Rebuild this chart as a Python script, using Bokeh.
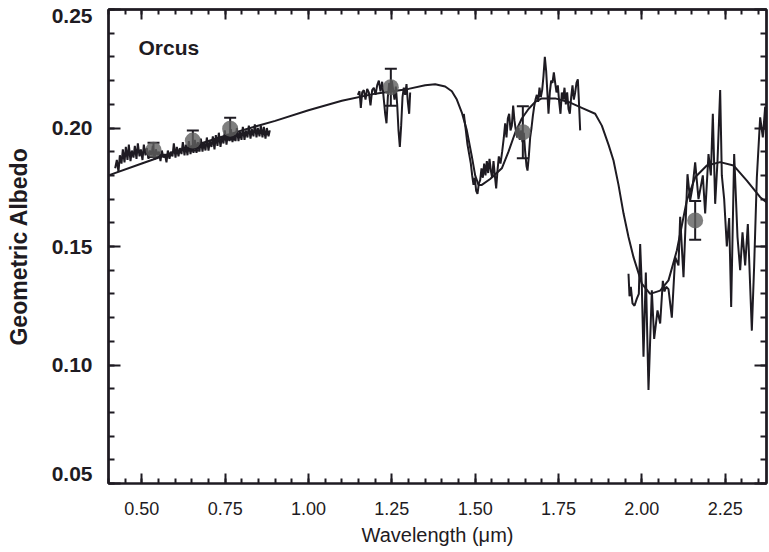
from bokeh.plotting import figure
from bokeh.models import (ColumnDataSource, Whisker, TeeHead, LinearAxis,
                          FixedTicker, Range1d, Label, NumeralTickFormatter)
from bokeh.embed import file_html
from bokeh.resources import INLINE

# ---------------- data ----------------
vis_x = [0.420, 0.425, 0.430, 0.434, 0.439, 0.443, 0.448, 0.452, 0.457, 0.461,
         0.466, 0.470, 0.475, 0.479, 0.484, 0.488, 0.493, 0.497, 0.502, 0.506,
         0.511, 0.515, 0.520, 0.524, 0.529, 0.533, 0.538, 0.542, 0.547, 0.551,
         0.556, 0.560, 0.565, 0.569, 0.574, 0.578, 0.583, 0.587, 0.592, 0.596,
         0.601, 0.605, 0.610, 0.614, 0.619, 0.623, 0.628, 0.632, 0.637, 0.641,
         0.646, 0.650, 0.655, 0.659, 0.664, 0.668, 0.673, 0.677, 0.682, 0.686,
         0.691, 0.695, 0.700, 0.704, 0.709, 0.713, 0.718, 0.722, 0.727, 0.731,
         0.736, 0.740, 0.745, 0.749, 0.754, 0.758, 0.763, 0.767, 0.772, 0.776,
         0.781, 0.785, 0.790, 0.794, 0.799, 0.803, 0.808, 0.812, 0.817, 0.821,
         0.826, 0.830, 0.835, 0.839, 0.844, 0.848, 0.853, 0.857, 0.862, 0.866,
         0.871, 0.875, 0.880, 0.884]
vis_y = [0.1830, 0.1865, 0.1815, 0.1885, 0.1850, 0.1910, 0.1855, 0.1920, 0.1865, 0.1930,
         0.1860, 0.1905, 0.1875, 0.1925, 0.1870, 0.1935, 0.1880, 0.1910, 0.1865, 0.1930,
         0.1885, 0.1915, 0.1870, 0.1905, 0.1885, 0.1925, 0.1865, 0.1910, 0.1885, 0.1900,
         0.1860, 0.1905, 0.1875, 0.1890, 0.1855, 0.1905, 0.1870, 0.1900, 0.1880, 0.1935,
         0.1875, 0.1920, 0.1880, 0.1915, 0.1890, 0.1940, 0.1885, 0.1930, 0.1885, 0.1945,
         0.1890, 0.1925, 0.1895, 0.1950, 0.1895, 0.1940, 0.1900, 0.1955, 0.1900, 0.1940,
         0.1905, 0.1960, 0.1905, 0.1945, 0.1920, 0.1965, 0.1910, 0.1970, 0.1925, 0.1980,
         0.1920, 0.1965, 0.1935, 0.1990, 0.1930, 0.1975, 0.1945, 0.1995, 0.1940, 0.1980,
         0.1945, 0.2000, 0.1945, 0.1985, 0.1950, 0.2005, 0.1950, 0.1990, 0.1960, 0.2010,
         0.1955, 0.1995, 0.1965, 0.2015, 0.1960, 0.2000, 0.1965, 0.2010, 0.1960, 0.2005,
         0.1955, 0.2000, 0.1965, 0.1990]

j_x = [1.148, 1.153, 1.157, 1.161, 1.166, 1.171, 1.176, 1.181, 1.186, 1.191,
       1.196, 1.201, 1.206, 1.211, 1.216, 1.221, 1.226, 1.230, 1.234, 1.238,
       1.242, 1.246, 1.250, 1.254, 1.258, 1.262, 1.266, 1.270, 1.274, 1.278,
       1.282, 1.286, 1.290, 1.294, 1.298, 1.302, 1.305]
j_y = [0.2140, 0.2155, 0.2085, 0.2150, 0.2160, 0.2120, 0.2165, 0.2150, 0.2095, 0.2160,
       0.2170, 0.2140, 0.2180, 0.2200, 0.2155, 0.2195, 0.2120, 0.2060, 0.2020, 0.2130,
       0.2190, 0.2150, 0.2200, 0.2160, 0.2120, 0.2175, 0.2100, 0.1990, 0.1920, 0.2010,
       0.2130, 0.2170, 0.2140, 0.2185, 0.2110, 0.2060, 0.2150]

h_x = [1.466, 1.472, 1.477, 1.482, 1.487, 1.491, 1.495, 1.499, 1.503, 1.507,
       1.511, 1.515, 1.519, 1.523, 1.527, 1.531, 1.535, 1.539, 1.543, 1.547,
       1.551, 1.555, 1.559, 1.563, 1.567, 1.571, 1.576, 1.581, 1.586, 1.590,
       1.594, 1.598, 1.602, 1.606, 1.610, 1.614, 1.618, 1.622, 1.626, 1.630,
       1.634, 1.638, 1.642, 1.646, 1.650, 1.654, 1.657, 1.661, 1.665, 1.669,
       1.673, 1.677, 1.681, 1.685, 1.689, 1.693, 1.697, 1.701, 1.705, 1.709,
       1.713, 1.717, 1.720, 1.724, 1.728, 1.732, 1.736, 1.740, 1.744, 1.748,
       1.752, 1.756, 1.760, 1.764, 1.768, 1.772, 1.776, 1.780, 1.784, 1.788,
       1.792, 1.796, 1.800, 1.804, 1.808, 1.811, 1.815]
h_y = [0.2060, 0.1990, 0.1930, 0.1890, 0.1850, 0.1800, 0.1760, 0.1790, 0.1735, 0.1722,
       0.1765, 0.1780, 0.1830, 0.1790, 0.1850, 0.1800, 0.1860, 0.1810, 0.1870, 0.1820,
       0.1790, 0.1860, 0.1800, 0.1745, 0.1820, 0.1880, 0.1850, 0.1900, 0.1960, 0.2020,
       0.1960, 0.2040, 0.2060, 0.1990, 0.2010, 0.2095, 0.2030, 0.1990, 0.1960, 0.2000,
       0.1950, 0.1990, 0.1940, 0.1980, 0.1900, 0.1840, 0.1820, 0.1880, 0.1960, 0.2000,
       0.2050, 0.2090, 0.2120, 0.2140, 0.2110, 0.2170, 0.2130, 0.2160, 0.2220, 0.2300,
       0.2240, 0.2140, 0.2060, 0.2150, 0.2200, 0.2190, 0.2235, 0.2190, 0.2150, 0.2180,
       0.2110, 0.2060, 0.2150, 0.2120, 0.2170, 0.2100, 0.2150, 0.2080, 0.2060, 0.2130,
       0.2180, 0.2120, 0.2150, 0.2190, 0.2205, 0.2120, 0.1990]

k_x = [1.960, 1.963, 1.967, 1.972, 1.978, 1.985, 1.991, 1.995, 2.000, 2.005,
       2.012, 2.020, 2.030, 2.037, 2.047, 2.055, 2.063, 2.068, 2.073, 2.080,
       2.090, 2.100, 2.110, 2.115, 2.125, 2.137, 2.145, 2.152, 2.160, 2.170,
       2.183, 2.190, 2.200, 2.207, 2.213, 2.220, 2.227, 2.235, 2.240, 2.247,
       2.255, 2.262, 2.268, 2.277, 2.287, 2.295, 2.302, 2.310, 2.318, 2.330,
       2.337, 2.345, 2.355, 2.363, 2.370, 2.375, 2.382]
k_y = [0.1385, 0.1290, 0.1330, 0.1260, 0.1250, 0.1280, 0.1300, 0.1510, 0.1330, 0.1035,
       0.1390, 0.0895, 0.1315, 0.1110, 0.1230, 0.1175, 0.1355, 0.1310, 0.1330, 0.1320,
       0.1200, 0.1455, 0.1420, 0.1625, 0.1370, 0.1805, 0.1695, 0.1750, 0.1855, 0.1700,
       0.1800, 0.1640, 0.1890, 0.1800, 0.2060, 0.1680, 0.1860, 0.2160, 0.1800, 0.1700,
       0.1500, 0.1620, 0.1245, 0.1890, 0.1540, 0.1400, 0.1560, 0.1420, 0.1595, 0.1145,
       0.1420, 0.1790, 0.2045, 0.1960, 0.2090, 0.1800, 0.2190]

model_x = [0.40, 0.50, 0.60, 0.70, 0.80, 0.90, 1.00, 1.10, 1.20, 1.30,
           1.35, 1.38, 1.41, 1.43, 1.445, 1.46, 1.475, 1.49, 1.50, 1.51,
           1.52, 1.545, 1.58, 1.60, 1.62, 1.64, 1.66, 1.68, 1.70, 1.74,
           1.78, 1.82, 1.86, 1.88, 1.90, 1.915, 1.93, 1.945, 1.96, 1.975,
           2.00, 2.025, 2.055, 2.08, 2.105, 2.135, 2.16, 2.195, 2.235, 2.275,
           2.315, 2.355, 2.38]
model_y = [0.1800, 0.1850, 0.1900, 0.1945, 0.1990, 0.2030, 0.2075, 0.2115, 0.2145, 0.2165,
           0.2180, 0.2185, 0.2175, 0.2155, 0.2120, 0.2065, 0.1990, 0.1880, 0.1800, 0.1760,
           0.1760, 0.1785, 0.1830, 0.1900, 0.1980, 0.2040, 0.2080, 0.2110, 0.2125, 0.2125,
           0.2110, 0.2085, 0.2060, 0.2010, 0.1930, 0.1863, 0.1760, 0.1640, 0.1540, 0.1455,
           0.1343, 0.1300, 0.1314, 0.1357, 0.1483, 0.1694, 0.1792, 0.1842, 0.1856, 0.1842,
           0.1778, 0.1708, 0.1680]

phot_x = [0.535, 0.653, 0.765, 1.247, 1.643, 2.160]
phot_y = [0.1908, 0.1947, 0.1997, 0.2172, 0.1982, 0.1610]
phot_err = [0.0030, 0.0042, 0.0046, 0.0078, 0.0110, 0.0082]

x_ticks = [0.50, 0.75, 1.00, 1.25, 1.50, 1.75, 2.00, 2.25]
x_tick_labels = ["0.50", "0.75", "1.00", "1.25", "1.50", "1.75", "2.00", "2.25"]
y_ticks = [0.05, 0.10, 0.15, 0.20, 0.25]
y_tick_labels = ["0.05", "0.10", "0.15", "0.20", "0.25"]
x_minor = [round(0.40 + 0.05 * i, 2) for i in range(41)]
y_minor = [round(0.05 + 0.01 * i, 2) for i in range(21)]

X0, X1, Y0, Y1 = 0.40, 2.374, 0.05, 0.25

# ---------------- figure ----------------
INK = "#1e1b22"
FONT = "Liberation Sans"
p = figure(width=769, height=552, output_backend="svg", toolbar_location=None,
           x_range=Range1d(X0, X1), y_range=Range1d(Y0, Y1),
           min_border_left=108, min_border_right=3, min_border_top=9,
           min_border_bottom=69)
p.xgrid.visible = False
p.ygrid.visible = False
p.background_fill_color = "white"
p.border_fill_color = "white"
p.outline_line_color = INK
p.outline_line_width = 2

for xs, ys in [(vis_x, vis_y), (j_x, j_y), (h_x, h_y), (k_x, k_y)]:
    p.line(xs, ys, line_color=INK, line_width=2)
p.line(model_x, model_y, line_color=INK, line_width=2)

src = ColumnDataSource(dict(x=phot_x, y=phot_y,
                            upper=[a + b for a, b in zip(phot_y, phot_err)],
                            lower=[a - b for a, b in zip(phot_y, phot_err)]))
p.scatter("x", "y", source=src, size=16, fill_color="#5f5f5f", fill_alpha=0.8,
          line_color=None)
p.add_layout(Whisker(base="x", upper="upper", lower="lower", source=src,
                     line_color=INK, line_width=2,
                     upper_head=TeeHead(size=12, line_color=INK, line_width=2),
                     lower_head=TeeHead(size=12, line_color=INK, line_width=2)))


def style_axis(ax):
    ax.axis_line_width = 2
    ax.major_tick_line_width = 2
    ax.minor_tick_line_width = 2
    ax.axis_line_color = INK
    ax.major_tick_line_color = INK
    ax.minor_tick_line_color = INK
    ax.major_tick_out = 0
    ax.minor_tick_out = 0


def tick_only_axis(ticks, length):
    ax = LinearAxis(ticker=FixedTicker(ticks=[], minor_ticks=ticks),
                    minor_tick_in=length, major_label_standoff=0)
    style_axis(ax)
    return ax


# bottom axis (labels, ticks, title)
xa = p.xaxis[0]
style_axis(xa)
xa.ticker = FixedTicker(ticks=x_ticks, minor_ticks=x_minor)
xa.formatter = NumeralTickFormatter(format="0.00")
xa.major_label_overrides = {t: s for t, s in zip(x_ticks, x_tick_labels)}
xa.major_tick_in = 10
xa.minor_tick_in = 5
xa.major_label_text_font = FONT
xa.major_label_text_font_size = "18px"
xa.major_label_text_color = INK
xa.major_label_standoff = 18
xa.axis_label = "Wavelength (\u03bcm)"
xa.axis_label_text_font = FONT
xa.axis_label_text_font_style = "normal"
xa.axis_label_text_font_size = "20px"
xa.axis_label_text_color = INK
xa.axis_label_standoff = 6

# left axis: labels (end labels kept inside the frame, as in the original)
label_pos = []
for t in y_ticks:
    if t == Y1:
        label_pos.append(Y1 - 0.0027)
    elif t == Y0:
        label_pos.append(Y0 + 0.0038)
    else:
        label_pos.append(t)
ya = p.yaxis[0]
style_axis(ya)
ya.ticker = FixedTicker(ticks=label_pos, minor_ticks=y_minor)
ya.formatter = NumeralTickFormatter(format="0.00")
ya.major_label_overrides = {t: s for t, s in zip(label_pos, y_tick_labels)}
ya.major_tick_in = 0
ya.minor_tick_in = 6
ya.major_label_text_font = FONT
ya.major_label_text_font_style = "bold"
ya.major_label_text_font_size = "21px"
ya.major_label_text_color = INK
ya.major_label_standoff = 16
ya.axis_label = "Geometric Albedo"
ya.axis_label_text_font = FONT
ya.axis_label_text_font_style = "bold"
ya.axis_label_text_font_size = "23px"
ya.axis_label_text_color = INK
ya.axis_label_standoff = 17

# long major ticks on the left, in an innermost tick-only axis
p.left.insert(0, tick_only_axis(y_ticks, 12))

# top and right frames: tick marks only
for ticks, length in [(x_minor, 5), (x_ticks, 10)]:
    p.add_layout(tick_only_axis(ticks, length), "above")
for ticks, length in [(y_minor, 6), (y_ticks, 12)]:
    p.add_layout(tick_only_axis(ticks, length), "right")

p.add_layout(Label(x=0.49, y=0.234, text="Orcus", text_font=FONT,
                   text_font_style="bold", text_font_size="21px", text_color=INK,
                   text_baseline="middle", text_align="left"))

open("out.html", "w").write(file_html(p, INLINE))
